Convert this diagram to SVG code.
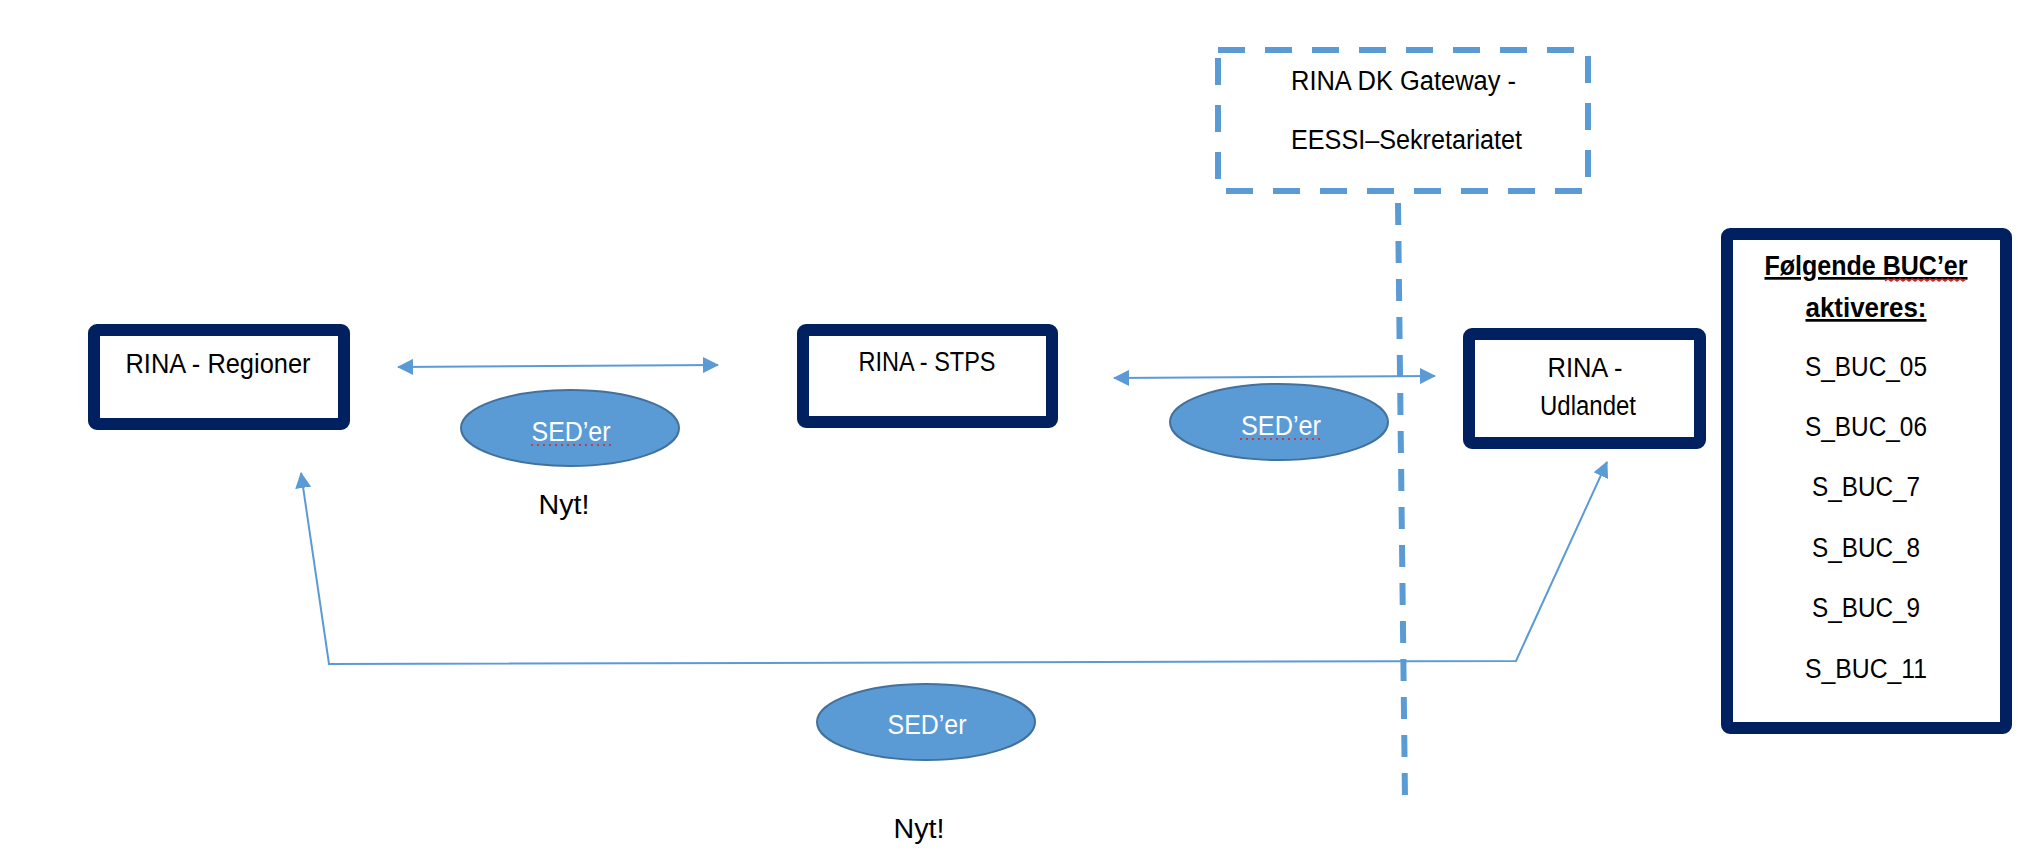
<svg xmlns="http://www.w3.org/2000/svg" width="2036" height="868" viewBox="0 0 2036 868">
<defs>
<style>
.box{fill:#fff;stroke:#002060;stroke-width:12}
.ell{fill:#5B9BD5;stroke:#41719C;stroke-width:2}
.t{font-family:"Liberation Sans",Arial,sans-serif;font-size:27px;fill:#000}
.c{text-anchor:middle}
.w{fill:#fff}
.con{fill:none;stroke:#5B9BD5;stroke-width:2}
.dash{fill:none;stroke:#5B9BD5;stroke-width:6}
.spell{fill:none;stroke:#E02020;stroke-width:1.5}
</style>
<marker id="ah" viewBox="0 0 16 16" refX="15" refY="8" markerWidth="16" markerHeight="16" markerUnits="userSpaceOnUse" orient="auto-start-reverse">
<path d="M0,0 L16,8 L0,16 Z" fill="#5B9BD5"/>
</marker>
</defs>
<rect width="2036" height="868" fill="#fff"/>

<g id="gateway">
<rect class="dash" x="1218" y="50" width="370" height="141" stroke-dasharray="27 20"/>
<text class="t" x="1291" y="90" textLength="225" lengthAdjust="spacingAndGlyphs">RINA DK Gateway -</text>
<text class="t" x="1291" y="149" textLength="231" lengthAdjust="spacingAndGlyphs">EESSI–Sekretariatet</text>
</g>
<g id="border-line">
<line class="dash" x1="1398" y1="203" x2="1405" y2="799" stroke-dasharray="22 16"/>
</g>

<g id="connectors">
<line class="con" x1="398" y1="367" x2="718" y2="365" marker-start="url(#ah)" marker-end="url(#ah)"/>
<line class="con" x1="1114" y1="378" x2="1435" y2="376" marker-start="url(#ah)" marker-end="url(#ah)"/>
<polyline class="con" points="301,473 329,664 1516,661 1607,462" marker-start="url(#ah)" marker-end="url(#ah)"/>
</g>

<g id="regioner">
<rect class="box" x="94" y="330" width="250" height="94" rx="3"/>
<text class="t c" x="218" y="373" textLength="185" lengthAdjust="spacingAndGlyphs">RINA - Regioner</text>
</g>

<g id="stps">
<rect class="box" x="803" y="330" width="249" height="92" rx="3"/>
<text class="t c" x="927" y="371" textLength="137" lengthAdjust="spacingAndGlyphs">RINA - STPS</text>
</g>

<g id="udlandet">
<rect class="box" x="1469" y="334" width="231" height="109" rx="3"/>
<text class="t c" x="1585" y="377" textLength="75" lengthAdjust="spacingAndGlyphs">RINA -</text>
<text class="t c" x="1588" y="415" textLength="96" lengthAdjust="spacingAndGlyphs">Udlandet</text>
</g>

<g id="buc-list">
<rect class="box" x="1727" y="234" width="279" height="494" rx="3"/>
<text class="t c" x="1866" y="275" font-weight="bold" text-decoration="underline" textLength="203" lengthAdjust="spacingAndGlyphs">Følgende BUC’er</text>
<text class="t c" x="1866" y="317" font-weight="bold" text-decoration="underline" textLength="121" lengthAdjust="spacingAndGlyphs">aktiveres:</text>
<path class="spell" d="M1885,281 l3,-2 l3,2 l3,-2 l3,2 l3,-2 l3,2 l3,-2 l3,2 l3,-2 l3,2 l3,-2 l3,2 l3,-2 l3,2 l3,-2 l3,2 l3,-2 l3,2 l3,-2 l3,2 l3,-2 l3,2 l3,-2 l3,2 l3,-2 l3,2 l3,-2"/>
<text class="t c" x="1866" y="376" textLength="122" lengthAdjust="spacingAndGlyphs">S_BUC_05</text>
<text class="t c" x="1866" y="436" textLength="122" lengthAdjust="spacingAndGlyphs">S_BUC_06</text>
<text class="t c" x="1866" y="496" textLength="108" lengthAdjust="spacingAndGlyphs">S_BUC_7</text>
<text class="t c" x="1866" y="557" textLength="108" lengthAdjust="spacingAndGlyphs">S_BUC_8</text>
<text class="t c" x="1866" y="617" textLength="108" lengthAdjust="spacingAndGlyphs">S_BUC_9</text>
<text class="t c" x="1866" y="678" textLength="122" lengthAdjust="spacingAndGlyphs">S_BUC_11</text>
</g>

<g id="sed1">
<ellipse class="ell" cx="570" cy="428" rx="109" ry="38"/>
<text class="t c w" x="571" y="441" textLength="79" lengthAdjust="spacingAndGlyphs">SED’er</text>
<line class="spell" x1="531" y1="445" x2="612" y2="445" stroke-dasharray="2 4"/>
</g>
<g id="nyt1">
<text class="t c" x="564" y="514" textLength="51" lengthAdjust="spacingAndGlyphs">Nyt!</text>
</g>

<g id="sed2">
<ellipse class="ell" cx="1279" cy="422" rx="109" ry="38"/>
<text class="t c w" x="1281" y="435" textLength="80" lengthAdjust="spacingAndGlyphs">SED’er</text>
<line class="spell" x1="1240" y1="439" x2="1323" y2="439" stroke-dasharray="2 4"/>
</g>

<g id="sed3">
<ellipse class="ell" cx="926" cy="722" rx="109" ry="38"/>
<text class="t c w" x="927" y="734" textLength="79" lengthAdjust="spacingAndGlyphs">SED’er</text>
</g>
<g id="nyt2">
<text class="t c" x="919" y="838" textLength="51" lengthAdjust="spacingAndGlyphs">Nyt!</text>
</g>
</svg>
